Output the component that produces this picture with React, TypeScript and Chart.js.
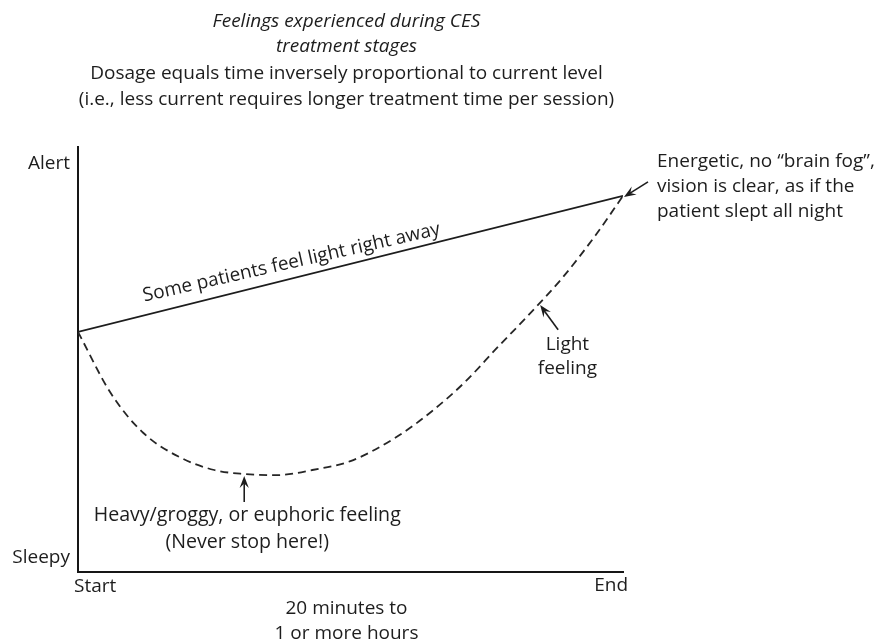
import React, { useEffect, useRef } from "react";
import { Chart, registerables } from "chart.js";

Chart.register(...registerables);

// ---- data ----
const timeTickLabels = ["Start", "End"];
const feelingTickLabels = ["Sleepy", "Alert"];
const durationLabel = ["20 minutes to", "1 or more hours"];

// "Some patients feel light right away" (straight)
const quickX = [0, 1];
const quickY = [0.565, 0.885];

// typical course (dashed)
const typicalX = [0, 0.06, 0.12, 0.19, 0.25, 0.3, 0.365, 0.43, 0.5, 0.585, 0.65, 0.71, 0.77, 0.83, 0.89, 0.95, 1.0];
const typicalY = [0.565, 0.421, 0.327, 0.268, 0.24, 0.231, 0.228, 0.24, 0.261, 0.318, 0.379, 0.447, 0.529, 0.609, 0.694, 0.793, 0.885];

const titleItalic = ["Feelings experienced during CES", "treatment stages"];
const subtitleLines = [
  "Dosage equals time inversely proportional to current level",
  "(i.e., less current requires longer treatment time per session)",
];
const quickLabel = "Some patients feel light right away";
const lowLabel = ["Heavy/groggy, or euphoric feeling", "(Never stop here!)"];
const lightLabel = ["Light", "feeling"];
const endLabel = ["Energetic, no \u201Cbrain fog\u201D,", "vision is clear, as if the", "patient slept all night"];

const FONT = '"Open Sans", "Noto Sans", sans-serif';
const INK = "#1d1d1d";

function arrow(ctx: CanvasRenderingContext2D, x1: number, y1: number, x2: number, y2: number) {
  const ang = Math.atan2(y2 - y1, x2 - x1);
  const len = 12;
  const half = 4.6;
  ctx.save();
  ctx.strokeStyle = INK;
  ctx.fillStyle = INK;
  ctx.lineWidth = 1.6;
  ctx.beginPath();
  ctx.moveTo(x1, y1);
  ctx.lineTo(x2 - Math.cos(ang) * len * 0.6, y2 - Math.sin(ang) * len * 0.6);
  ctx.stroke();
  const bx = x2 - Math.cos(ang) * len;
  const by = y2 - Math.sin(ang) * len;
  const nx = -Math.sin(ang);
  const ny = Math.cos(ang);
  ctx.beginPath();
  ctx.moveTo(x2, y2);
  ctx.lineTo(bx + nx * half, by + ny * half);
  ctx.lineTo(x2 - Math.cos(ang) * len * 0.62, y2 - Math.sin(ang) * len * 0.62);
  ctx.lineTo(bx - nx * half, by - ny * half);
  ctx.closePath();
  ctx.fill();
  ctx.restore();
}

const annotations = {
  id: "cesAnnotations",
  afterDraw(chart: any) {
    const ctx: CanvasRenderingContext2D = chart.ctx;
    const xs = chart.scales.x;
    const ys = chart.scales.y;
    const px = (v: number) => xs.getPixelForValue(v);
    const py = (v: number) => ys.getPixelForValue(v);
    const area = chart.chartArea;

    const text = (s: string, x: number, y: number, size: number, align: CanvasTextAlign = "center", style = "") => {
      ctx.font = `${style} ${size}px ${FONT}`.trim();
      ctx.fillStyle = INK;
      ctx.textAlign = align;
      ctx.textBaseline = "middle";
      ctx.fillText(s, x, y);
    };

    ctx.save();
    // titles
    const cx = (area.left + area.right) / 2 - 4;
    text(titleItalic[0], cx, 22, 19, "center", "italic");
    text(titleItalic[1], cx, 47, 19, "center", "italic");
    text(subtitleLines[0], cx, 74, 19);
    text(subtitleLines[1], cx, 100, 19);

    // axis end labels
    text(feelingTickLabels[1], area.left - 8, py(0.962), 19, "right");
    text(feelingTickLabels[0], area.left - 8, py(0.033), 19, "right");
    text(timeTickLabels[0], area.left - 4, area.bottom + 15, 19, "left");
    text(timeTickLabels[1], area.right + 5, area.bottom + 14, 19, "right");
    text(durationLabel[0], cx, area.bottom + 37, 19);
    text(durationLabel[1], cx, area.bottom + 62, 19);

    // rotated label along the straight line
    const x0 = px(quickX[0]), y0 = py(quickY[0]);
    const x1 = px(quickX[1]), y1 = py(quickY[1]);
    const ang = Math.atan2(y1 - y0, x1 - x0);
    const t = 0.398;
    const mx = x0 + (x1 - x0) * t;
    const my = y0 + (y1 - y0) * t;
    ctx.save();
    ctx.translate(mx, my);
    ctx.rotate(ang + 0.022);
    ctx.font = `19px ${FONT}`;
    ctx.fillStyle = INK;
    ctx.textAlign = "center";
    ctx.textBaseline = "alphabetic";
    ctx.fillText(quickLabel, 0, -10);
    ctx.restore();

    // low point annotation
    const lowX = 0.305;
    text(lowLabel[0], px(lowX) + 3, area.bottom - 57, 19.6);
    text(lowLabel[1], px(lowX) + 3, area.bottom - 30, 19.6);
    arrow(ctx, px(lowX), area.bottom - 70, px(lowX), py(0.226));

    // light feeling
    text(lightLabel[0], px(0.898), py(0.535), 19);
    text(lightLabel[1], px(0.898), py(0.535) + 24, 19);
    arrow(ctx, px(0.881), py(0.57), px(0.848), py(0.628));

    // end annotation
    const ex = area.right + 34;
    text(endLabel[0], ex, py(0.965), 19, "left");
    text(endLabel[1], ex, py(0.965) + 25, 19, "left");
    text(endLabel[2], ex, py(0.965) + 50, 19, "left");
    arrow(ctx, area.right + 25, py(0.918), px(1.0) + 1, py(0.885) + 1);
    ctx.restore();
  },
};

export default function App() {
  const ref = useRef<HTMLCanvasElement>(null);

  useEffect(() => {
    const canvas = ref.current;
    if (!canvas) return;
    const chart = new Chart(canvas, {
      type: "scatter",
      data: {
        datasets: [
          {
            label: quickLabel,
            data: quickX.map((x, i) => ({ x, y: quickY[i] })),
            showLine: true,
            borderColor: INK,
            borderWidth: 1.8,
            pointRadius: 0,
            tension: 0,
          },
          {
            label: "Typical course",
            data: typicalX.map((x, i) => ({ x, y: typicalY[i] })),
            showLine: true,
            borderColor: "#262626",
            borderWidth: 1.8,
            borderDash: [8, 5],
            pointRadius: 0,
            cubicInterpolationMode: "monotone",
          },
        ],
      },
      options: {
        animation: false,
        responsive: false,
        events: [],
        layout: { padding: { left: 78, right: 257, top: 147, bottom: 68 } },
        plugins: {
          legend: { display: false },
          tooltip: { enabled: false },
          title: { display: false },
        },
        scales: {
          x: {
            type: "linear",
            min: 0,
            max: 1,
            ticks: { display: false },
            grid: { display: false, drawTicks: false },
            border: { display: true, color: "#161616", width: 2 },
          },
          y: {
            type: "linear",
            min: 0,
            max: 1,
            ticks: { display: false },
            grid: { display: false, drawTicks: false },
            border: { display: true, color: "#161616", width: 2 },
          },
        },
      },
      plugins: [annotations],
    });
    return () => chart.destroy();
  }, []);

  return (
    <div style={{ position: "fixed", left: 0, top: 0, width: 880, height: 640, background: "#fff" }}>
      <canvas ref={ref} width={880} height={640} style={{ display: "block" }} />
    </div>
  );
}
